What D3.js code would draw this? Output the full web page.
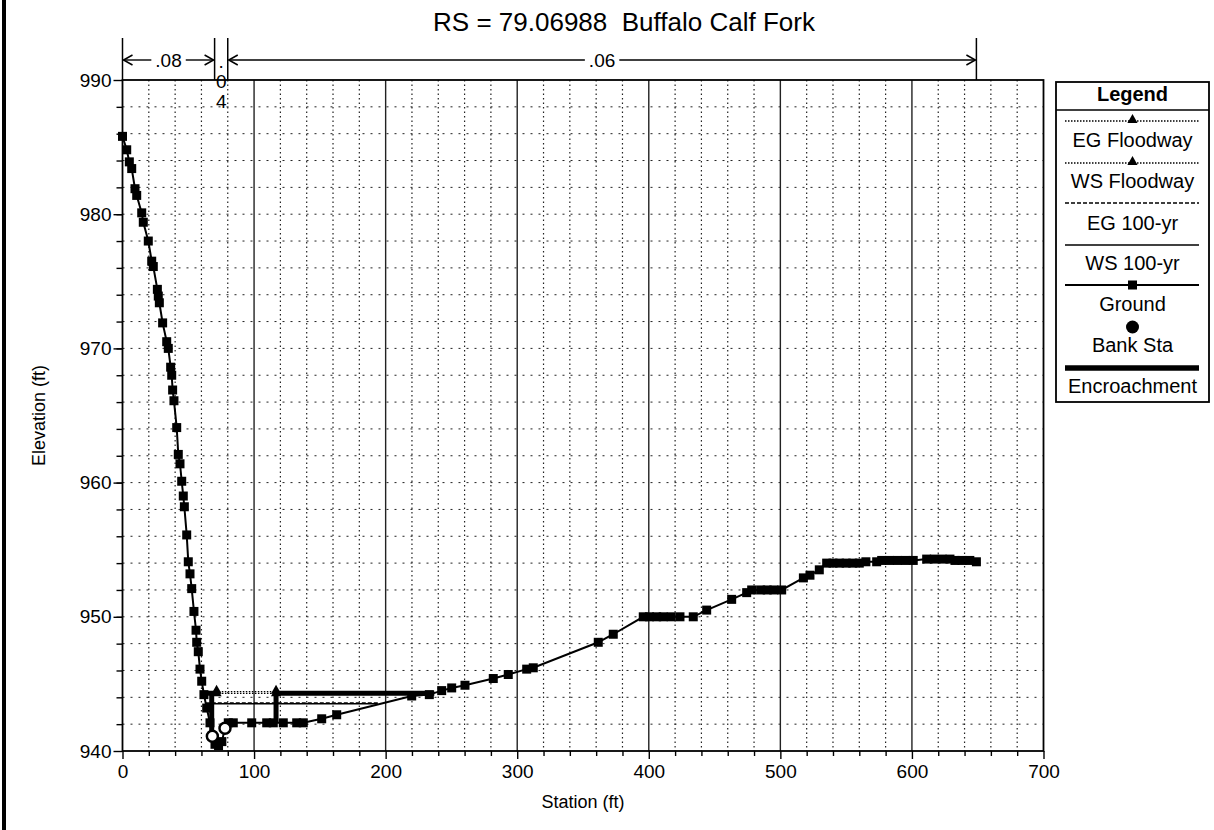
<!DOCTYPE html>
<html><head><meta charset="utf-8">
<script src="https://cdn.jsdelivr.net/npm/d3@7"></script>
<style>
body{margin:0;background:#fff}
svg{display:block}
text{font-family:"Liberation Sans",Arial,Helvetica,sans-serif;fill:#000}
</style>
</head><body>
<svg id="c" width="1214" height="830"></svg>
<script>
// ---------------- data ----------------
const chartTitle = "RS = 79.06988  Buffalo Calf Fork";
const xLabel = "Station (ft)";
const yLabel = "Elevation (ft)";
const xTicks = [0, 100, 200, 300, 400, 500, 600, 700];
const yTicks = [940, 950, 960, 970, 980, 990];

const groundSta = [0,3.2,5.2,7.0,9.5,10.8,14.6,15.8,19.6,22.2,23.4,26.5,27.2,28.0,30.5,33.6,34.8,36.6,37.4,38.1,39.1,41.2,42.4,43.7,45.0,46.2,47.0,48.8,50.0,51.3,52.6,54.3,55.9,56.4,57.6,58.9,60.2,61.9,64.0,66.5,68.3,70.3,73.0,75.5,77.9,80.4,84.2,98.2,109.6,114.6,122.2,132.4,137.4,151.4,162.8,219.8,233.2,242.6,250.2,260.3,281.8,293.2,307.2,312.2,361.6,373.0,395.8,400.5,406.0,411.0,417.0,423.7,433.8,444.0,463.0,474.4,478.2,485,490,495,501.0,517.5,522.5,529.6,535.2,540,545,550,555,560,565,573.2,577.0,583,589,595,601.0,611.2,617,623,628.9,632.7,638,644,649];
const groundElev = [985.8,984.8,983.9,983.4,981.9,981.4,980.1,979.4,978.0,976.5,976.1,974.4,973.9,973.4,971.9,970.5,970.0,968.6,968.0,966.9,966.1,964.1,962.1,961.4,960.1,959.0,958.2,956.1,954.1,953.2,952.1,950.4,949.0,948.1,947.4,946.1,945.2,944.2,943.2,942.1,941.1,940.5,940.4,940.7,941.7,942.1,942.1,942.1,942.1,942.1,942.1,942.1,942.1,942.4,942.7,944.1,944.2,944.5,944.7,944.9,945.4,945.7,946.1,946.2,948.1,948.7,950.0,950.0,950.0,950.0,950.0,950.0,950.0,950.5,951.3,951.8,952.0,952.0,952.0,952.0,952.0,952.9,953.1,953.5,954.0,954.0,954.0,954.0,954.0,954.0,954.1,954.1,954.2,954.2,954.2,954.2,954.2,954.3,954.3,954.3,954.3,954.2,954.2,954.2,954.1];

const bankSta = [68.3, 77.9];
const bankElev = [941.1, 941.7];

const egFloodwaySta = [61.8, 116.7];
const egFloodwayElev = [944.42, 944.42];
const egFloodwayMarkSta = [71.5, 116.7];
const wsFloodwaySta = [61.9, 116.7];
const wsFloodwayElev = [944.3, 944.3];
const wsFloodwayMarkSta = [71.5, 116.7];
const eg100Sta = [63.3, 195.0];
const eg100Elev = [943.58, 943.58];
const ws100Sta = [63.4, 194.0];
const ws100Elev = [943.52, 943.52];

const encLeftSta = [61.8, 67.8, 67.8];
const encLeftElev = [944.3, 944.3, 941.4];
const encRightSta = [116.7, 116.7, 237.0];
const encRightElev = [942.1, 944.3, 944.3];

const nBreaks = [0, 70, 80, 649];
const nValues = [".08", ".04", ".06"];

const legendTitle = "Legend";
const legendLabels = ["EG Floodway", "WS Floodway", "EG 100-yr", "WS 100-yr", "Ground", "Bank Sta", "Encroachment"];

// ---------------- layout ----------------
const svg = d3.select("#c");
const L = 122.5, R = 1043.5, T = 80, B = 751;
const x = d3.scaleLinear().domain([0, 700]).range([L, R]);
const y = d3.scaleLinear().domain([940, 990]).range([B, T]);

// page left border (scan)
svg.append("rect").attr("x", 2).attr("y", 0).attr("width", 4).attr("height", 830).attr("fill", "#000");

// title
svg.append("text").attr("x", 624).attr("y", 31).attr("text-anchor", "middle")
  .style("font-size", "26px").style("white-space", "pre").text(chartTitle);

// ---------------- grid ----------------
const grid = svg.append("g");
const minorX = d3.range(20, 700, 20).filter(v => v % 100 !== 0);
const majorX = d3.range(100, 700, 100);
const minorY = d3.range(942, 990, 2);
grid.selectAll(".gy").data(minorY).join("line")
  .attr("x1", L).attr("x2", R).attr("y1", d => y(d)).attr("y2", d => y(d))
  .attr("stroke", "#222").attr("stroke-width", 1).attr("stroke-dasharray", "2,6");
grid.selectAll(".gx").data(minorX).join("line")
  .attr("y1", T).attr("y2", B).attr("x1", d => x(d)).attr("x2", d => x(d))
  .attr("stroke", "#222").attr("stroke-width", 1.2).attr("stroke-dasharray", "1.5,3");
grid.selectAll(".gX").data(majorX).join("line")
  .attr("y1", T).attr("y2", B).attr("x1", d => x(d)).attr("x2", d => x(d))
  .attr("stroke", "#222").attr("stroke-width", 1.4);

// ---------------- series ----------------
const line = d3.line().x(d => x(d[0])).y(d => y(d[1]));
const zip = (a, b) => a.map((v, i) => [v, b[i]]);
const plot = svg.append("g");

plot.append("path").datum(zip(ws100Sta, ws100Elev)).attr("d", line)
  .attr("fill", "none").attr("stroke", "#000").attr("stroke-width", 1.3);
plot.append("path").datum(zip(eg100Sta, eg100Elev)).attr("d", line)
  .attr("fill", "none").attr("stroke", "#000").attr("stroke-width", 1.3).attr("stroke-dasharray", "4,2");
plot.append("path").datum(zip(wsFloodwaySta, wsFloodwayElev)).attr("d", line)
  .attr("fill", "none").attr("stroke", "#000").attr("stroke-width", 1.3).attr("stroke-dasharray", "1.5,1.5");
plot.append("path").datum(zip(egFloodwaySta, egFloodwayElev)).attr("d", line)
  .attr("fill", "none").attr("stroke", "#000").attr("stroke-width", 1.3).attr("stroke-dasharray", "1.5,1.5");
const tri = d3.symbol().type(d3.symbolTriangle).size(45);
plot.selectAll(".tw").data(wsFloodwayMarkSta).join("path")
  .attr("d", tri).attr("transform", d => `translate(${x(d)},${y(wsFloodwayElev[0])})`).attr("fill", "#000");
plot.selectAll(".te").data(egFloodwayMarkSta).join("path")
  .attr("d", tri).attr("transform", d => `translate(${x(d)},${y(egFloodwayElev[0]) - 1})`).attr("fill", "#000");

// ground
plot.append("path").datum(zip(groundSta, groundElev)).attr("d", line)
  .attr("fill", "none").attr("stroke", "#000").attr("stroke-width", 2);

// encroachment
[zip(encLeftSta, encLeftElev), zip(encRightSta, encRightElev)].forEach(p => {
  plot.append("path").datum(p).attr("d", line).attr("fill", "none")
    .attr("stroke", "#000").attr("stroke-width", 5).attr("stroke-linejoin", "miter");
});

// ground markers
plot.selectAll(".gs").data(zip(groundSta, groundElev)).join("rect")
  .attr("x", d => x(d[0]) - 4.5).attr("y", d => y(d[1]) - 4.5)
  .attr("width", 9).attr("height", 9).attr("fill", "#000");

// bank stations
plot.selectAll(".bk").data(zip(bankSta, bankElev)).join("circle")
  .attr("cx", d => x(d[0])).attr("cy", d => y(d[1])).attr("r", 5.5)
  .attr("fill", "#fff").attr("stroke", "#000").attr("stroke-width", 2.5);

// ---------------- axes ----------------
const ax = svg.append("g").attr("transform", `translate(0,${B})`)
  .call(d3.axisBottom(x).tickValues(xTicks).tickFormat(d3.format("d")).tickSize(8).tickPadding(6));
const axm = svg.append("g").attr("transform", `translate(0,${B})`)
  .call(d3.axisBottom(x).tickValues(minorX).tickFormat("").tickSize(5));
const ay = svg.append("g").attr("transform", `translate(${L},0)`)
  .call(d3.axisLeft(y).tickValues(yTicks).tickFormat(d3.format("d")).tickSize(9).tickPadding(2));
const aym = svg.append("g").attr("transform", `translate(${L},0)`)
  .call(d3.axisLeft(y).tickValues(minorY).tickFormat("").tickSize(6));
[ax, axm, ay, aym].forEach(g => {
  g.select(".domain").remove();
  g.selectAll("line").attr("stroke", "#000").attr("stroke-width", 1.4);
  g.selectAll("text").style("font-size", "19px").attr("fill", "#000");
});

// plot border
svg.append("rect").attr("x", L).attr("y", T).attr("width", R - L).attr("height", B - T)
  .attr("fill", "none").attr("stroke", "#000").attr("stroke-width", 1.8);

// axis titles
svg.append("text").attr("x", (L + R) / 2).attr("y", 808).attr("text-anchor", "middle")
  .style("font-size", "18px").text(xLabel);
svg.append("text").attr("transform", `translate(45,${(T + B) / 2}) rotate(-90)`)
  .attr("text-anchor", "middle").style("font-size", "18px").text(yLabel);

// ---------------- Manning's n annotation ----------------
const ann = svg.append("g");
const ay0 = 60;
nBreaks.forEach(b => {
  ann.append("line").attr("x1", x(b)).attr("x2", x(b)).attr("y1", 38).attr("y2", T)
    .attr("stroke", "#000").attr("stroke-width", 1.5);
});
function arrowHead(xt, dir) {
  ann.append("path").attr("d", `M${xt + dir * 10},${ay0 - 5}L${xt + dir * 1},${ay0}L${xt + dir * 10},${ay0 + 5}`)
    .attr("fill", "none").attr("stroke", "#000").attr("stroke-width", 1.5);
}
nValues.forEach((v, i) => {
  const x0 = x(nBreaks[i]), x1 = x(nBreaks[i + 1]), xm = (x0 + x1) / 2;
  if (x1 - x0 < 30) {
    v.split("").forEach((ch, k) => {
      ann.append("text").attr("x", xm).attr("y", 68 + k * 20).attr("text-anchor", "middle")
        .style("font-size", "19px").text(ch);
    });
    return;
  }
  const t = ann.append("text").attr("x", xm).attr("y", ay0 + 7).attr("text-anchor", "middle")
    .style("font-size", "19px").text(v);
  const w = t.node().getComputedTextLength();
  ann.append("line").attr("x1", x0 + 1).attr("x2", xm - w / 2 - 4).attr("y1", ay0).attr("y2", ay0)
    .attr("stroke", "#000").attr("stroke-width", 1.4);
  ann.append("line").attr("x1", xm + w / 2 + 4).attr("x2", x1 - 1).attr("y1", ay0).attr("y2", ay0)
    .attr("stroke", "#000").attr("stroke-width", 1.4);
  arrowHead(x0, 1);
  arrowHead(x1, -1);
});

// ---------------- legend ----------------
const lg = svg.append("g");
const LX0 = 1056, LX1 = 1209, LT = 82, LB = 402;
const lcx = (LX0 + LX1) / 2;
lg.append("rect").attr("x", LX0).attr("y", LT).attr("width", LX1 - LX0).attr("height", LB - LT)
  .attr("fill", "#fff").attr("stroke", "#000").attr("stroke-width", 1.8);
lg.append("text").attr("x", lcx).attr("y", 101).attr("text-anchor", "middle")
  .style("font-size", "20px").style("font-weight", "bold").text(legendTitle);
lg.append("line").attr("x1", LX0).attr("x2", LX1).attr("y1", 110).attr("y2", 110)
  .attr("stroke", "#000").attr("stroke-width", 1.4);
const symY = [121, 163, 203, 245, 285, 327, 368];
const txtY = [147, 188, 230, 270, 311, 352, 393];
const lx0 = 1065, lx1 = 1199;
legendLabels.forEach((lab, i) => {
  const sy = symY[i];
  const ln = () => lg.append("line").attr("x1", lx0).attr("x2", lx1).attr("y1", sy).attr("y2", sy).attr("stroke", "#000");
  if (i === 0 || i === 1) {
    ln().attr("stroke-width", 1.3).attr("stroke-dasharray", "1.5,1.5");
    lg.append("path").attr("d", tri).attr("transform", `translate(${lcx},${sy - 1})`).attr("fill", "#000");
  } else if (i === 2) {
    ln().attr("stroke-width", 1.3).attr("stroke-dasharray", "4,2");
  } else if (i === 3) {
    ln().attr("stroke-width", 1.4);
  } else if (i === 4) {
    ln().attr("stroke-width", 1.8);
    lg.append("rect").attr("x", lcx - 4.5).attr("y", sy - 4.5).attr("width", 9).attr("height", 9).attr("fill", "#000");
  } else if (i === 5) {
    lg.append("circle").attr("cx", lcx).attr("cy", sy).attr("r", 6.5).attr("fill", "#000");
  } else {
    ln().attr("stroke-width", 5.5);
  }
  lg.append("text").attr("x", lcx).attr("y", txtY[i]).attr("text-anchor", "middle")
    .style("font-size", "20px").text(lab);
});
</script>
</body></html>
